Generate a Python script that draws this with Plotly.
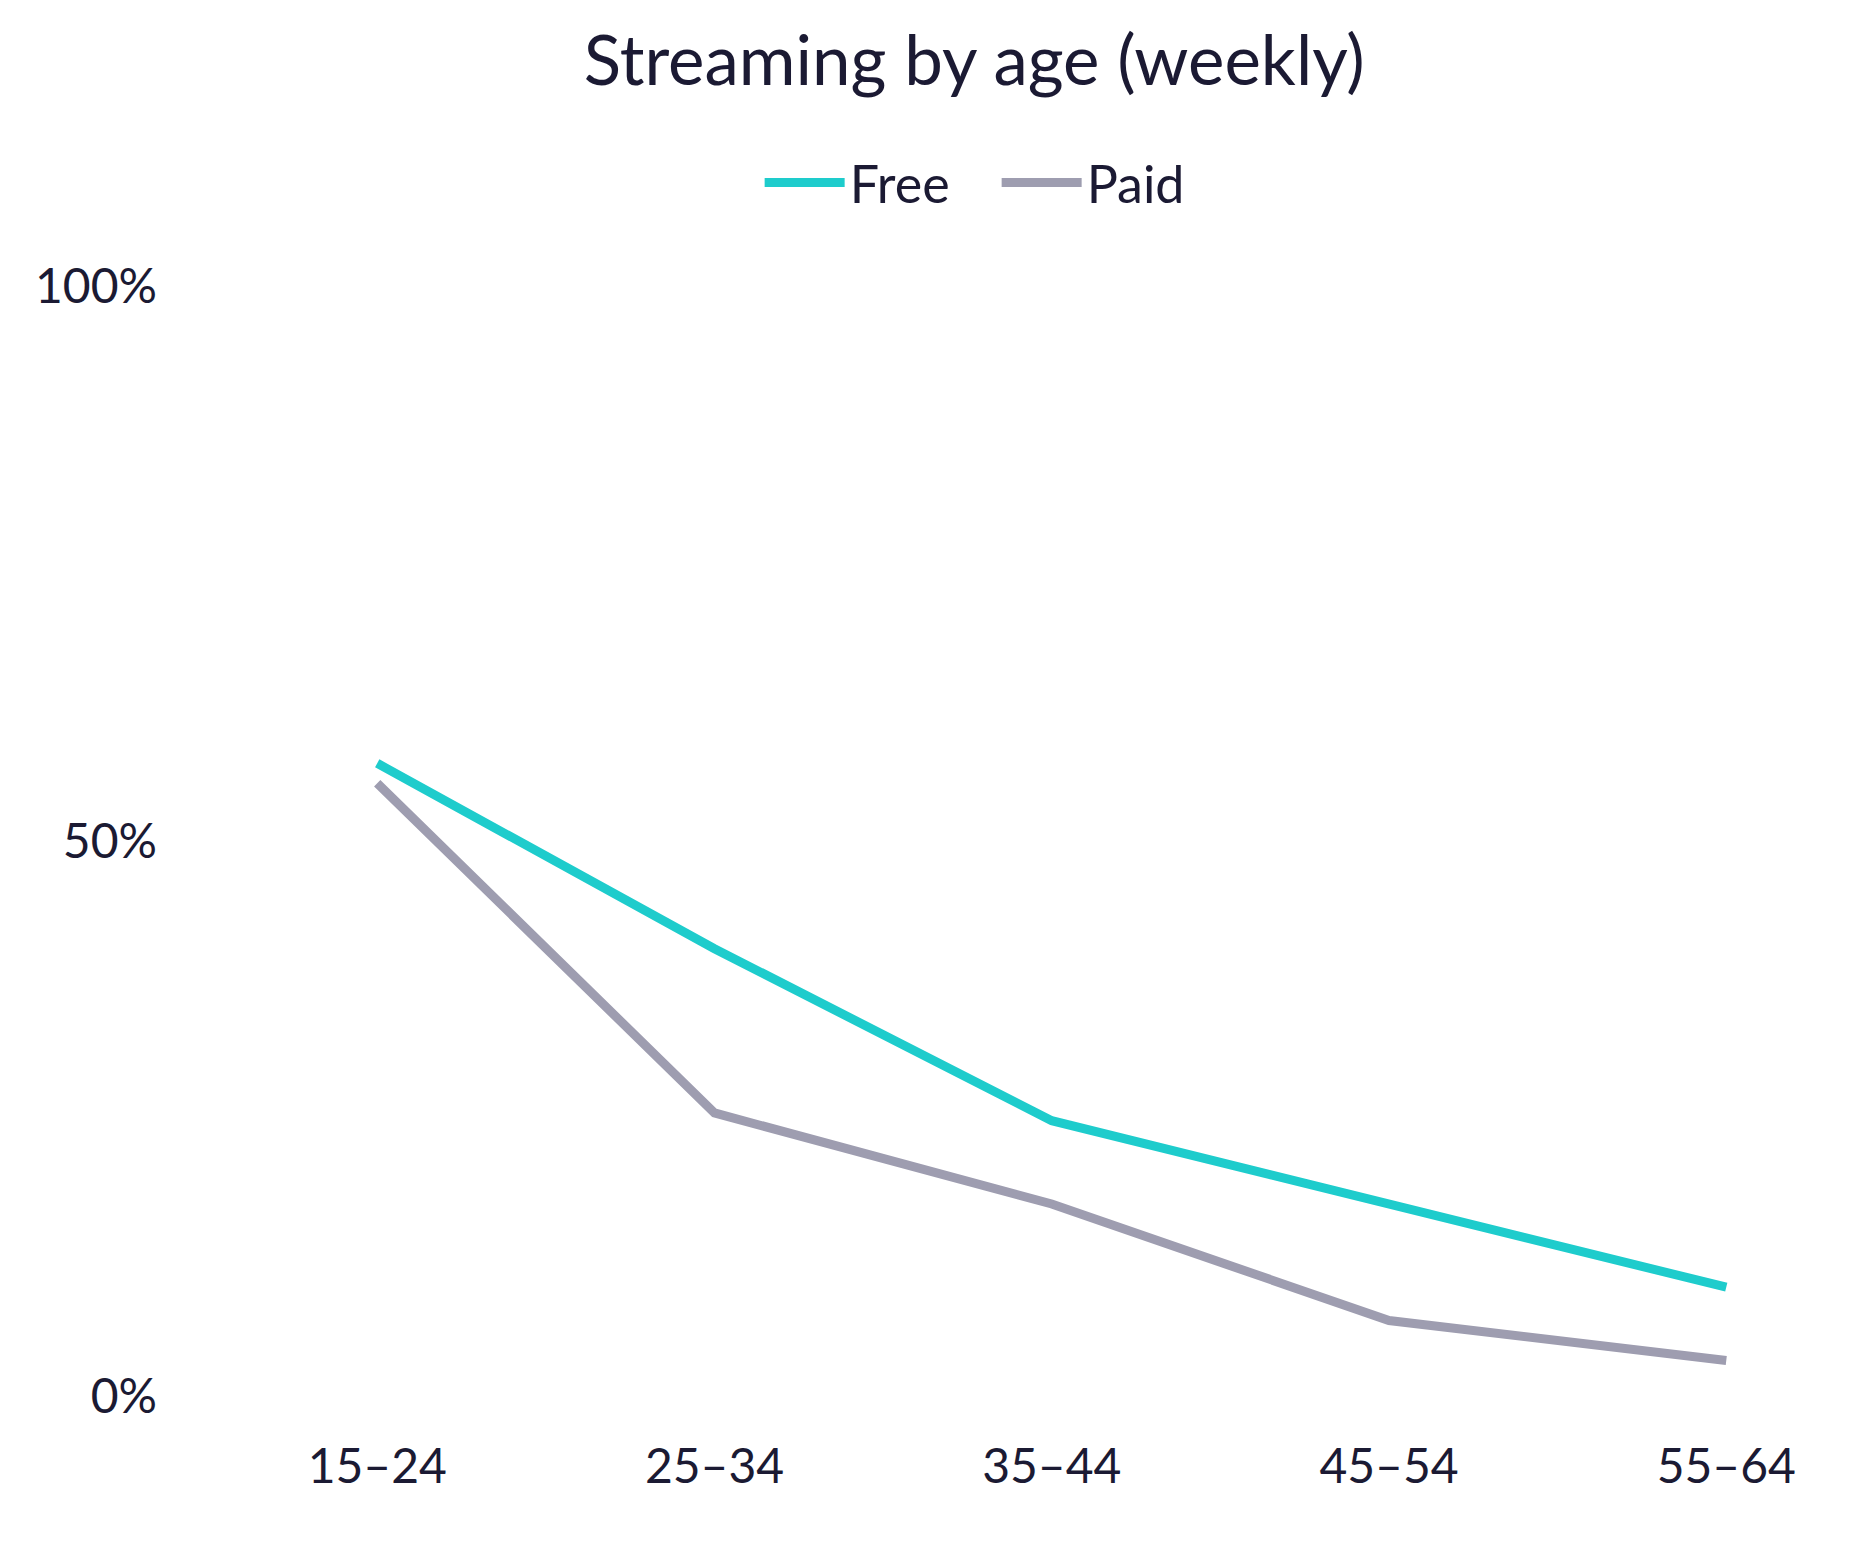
import plotly.graph_objects as go

categories = ["15–24", "25–34", "35–44", "45–54", "55–64"]
free_vals = [57.0, 40.3, 24.8, 17.3, 9.8]
paid_vals = [55.2, 25.5, 17.3, 6.8, 3.2]
y_tick_vals = [0, 50, 100]
y_tick_text = ["0%", "50%", "100%"]

FONT = "Lato"
TEXT = "#1b1a33"

fig = go.Figure()
fig.add_trace(go.Scatter(x=categories, y=free_vals, name="Free", mode="lines",
                         line=dict(color="#1ecccc", width=9)))
fig.add_trace(go.Scatter(x=categories, y=paid_vals, name="Paid", mode="lines",
                         line=dict(color="#9e9db0", width=9)))

fig.update_layout(
    width=1851, height=1554,
    paper_bgcolor="white", plot_bgcolor="white",
    margin=dict(l=150, r=99, t=278, b=166),
    font=dict(family=FONT, color=TEXT, size=48),
    title=dict(text="Streaming by age (weekly)", x=0.522, xanchor="center",
               y=1 - 53 / 1554, yanchor="middle", xref="container", yref="container",
               font=dict(size=69, color=TEXT, family=FONT)),
    legend=dict(orientation="h", x=0.5235, xanchor="center", y=1.093, yanchor="middle",
                font=dict(size=52, color=TEXT), itemwidth=80,
                entrywidth=142, entrywidthmode="pixels"),
    showlegend=True,
)
fig.update_xaxes(type="category", range=[-0.65, 4.1], showgrid=False, zeroline=False,
                 showline=False, ticks="", ticklabelstandoff=38,
                 tickfont=dict(size=48, color=TEXT))
fig.update_yaxes(range=[0, 100], tickvals=y_tick_vals, ticktext=y_tick_text,
                 showgrid=False, zeroline=False, showline=False, ticks="",
                 tickfont=dict(size=48, color=TEXT))

fig.write_html("out.html")
